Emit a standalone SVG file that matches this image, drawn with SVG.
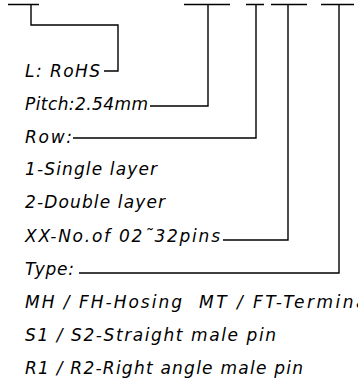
<svg xmlns="http://www.w3.org/2000/svg" width="358" height="382" viewBox="0 0 358 382">
<style>
.t{font-family:"DejaVu Sans","Liberation Sans",sans-serif;font-style:italic;font-size:17px;fill:#000}
.c{fill:none;stroke:#000;stroke-width:1.4}
</style>
<rect width="358" height="382" fill="#fff"/>
<g id="connectors" class="c">
<path d="M8,4.5H39M31,4.5V25H118V71H104"/>
<path d="M184,4.5H230M208,4.5V106H150"/>
<path d="M246,4.5H264M256,4.5V138H73"/>
<path d="M271,4.5H307M288,4.5V240H223"/>
<path d="M321,4.5H354M339,4.5V273H79"/>
</g>
<g id="rohs"><text class="t" x="25" y="77" textLength="75" lengthAdjust="spacing">L: RoHS</text></g>
<g id="pitch"><text class="t" x="25" y="110" textLength="123" lengthAdjust="spacing">Pitch:2.54mm</text></g>
<g id="row"><text class="t" x="25" y="143" textLength="47" lengthAdjust="spacing">Row:</text></g>
<g id="single"><text class="t" x="25" y="175" textLength="132" lengthAdjust="spacing">1-Single layer</text></g>
<g id="double"><text class="t" x="25" y="208" textLength="140" lengthAdjust="spacing">2-Double layer</text></g>
<g id="pins"><text class="t" x="25" y="242" textLength="195" lengthAdjust="spacing">XX-No.of 02˜32pins</text></g>
<g id="type"><text class="t" x="25" y="275" textLength="49" lengthAdjust="spacing">Type:</text></g>
<g id="mh"><text class="t" x="25" y="308"><tspan textLength="157" lengthAdjust="spacing">MH / FH-Hosing</tspan><tspan x="199" letter-spacing="2.5">MT / FT-Terminal</tspan></text></g>
<g id="s1"><text class="t" x="25" y="341" textLength="251" lengthAdjust="spacing">S1 / S2-Straight male pin</text></g>
<g id="r1"><text class="t" x="25" y="374" textLength="278" lengthAdjust="spacing">R1 / R2-Right angle male pin</text></g>
</svg>
